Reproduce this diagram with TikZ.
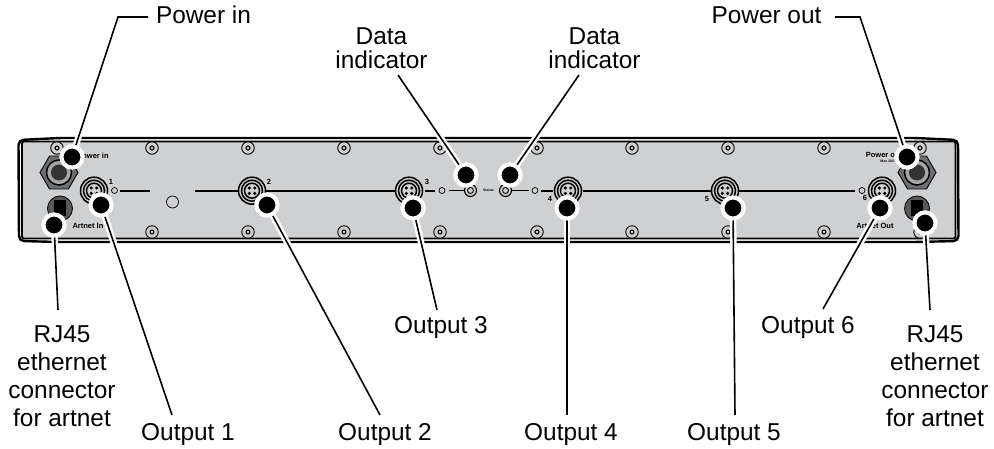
\documentclass[tikz,border=0pt]{standalone}
\usepackage{fontspec}
\setmainfont{Liberation Sans}
\usetikzlibrary{shapes.geometric}
\definecolor{panelgrey}{HTML}{CFD0D2}
\definecolor{nutgrey}{HTML}{6D6E71}
\begin{document}
\begin{tikzpicture}
    [
        x=1pt, y=-1pt,
        label/.style = {align=center, inner sep=0pt, font=\fontsize{24.4}{28}\selectfont},
        small/.style = {inner sep=0pt, font=\fontsize{7.5}{7.5}\selectfont\bfseries},
        tiny/.style = {inner sep=0pt, font=\fontsize{3.5}{4}\selectfont\bfseries},
        ring/.style = {draw, shape=circle, inner sep=0pt, line width=1.5pt},
        led/.style = {draw, shape=circle, inner sep=0pt, minimum size=6pt, line width=0.7pt},
        pin/.style = {fill, shape=circle, inner sep=0pt, minimum size=3.4pt},
        screw/.style = {draw, fill=panelgrey, shape=circle, inner sep=0pt, minimum size=12.5pt, line width=0.9pt},
        screwhole/.style = {draw, shape=circle, inner sep=0pt, minimum size=4pt, line width=1.1pt},
        nut/.style = {draw, fill=nutgrey, shape=regular polygon, regular polygon sides=6, inner sep=0pt, minimum size=38pt, line width=0.9pt},
        dot/.style = {fill=black, draw=white, shape=circle, inner sep=0pt, minimum size=21pt, line width=4pt},
        halo/.style = {white, line width=6.5pt},
        lead/.style = {black, line width=1.6pt},
        wire/.style = {black, line width=2.2pt},
        thinwire/.style = {black, line width=1.1pt},
    ]

    \useasboundingbox (0,0) rectangle (994,449);

    % panel
    \draw[line width=2.4pt, fill=white, rounded corners=5pt] (18.5,140) -- (60,138) -- (915,138) -- (958,140) -- (958.5,241) -- (915,242) -- (60,242) -- (19,241) -- cycle;
    \draw[line width=1.8pt, fill=panelgrey, rounded corners=2pt] (22,141.5) -- (955.5,141.5) -- (955.5,238.5) -- (22,238.5) -- cycle;

    % screws
    \foreach \x in {57,152,248,344,440,537,632,728,824,920} {
        \node[screw] (t\x) at (\x,148) {};
        \node[screwhole] (th\x) at (\x,148) {};
    }
    \foreach \x in {152,248,344,440,537,632,728,824,920} {
        \node[screw] (b\x) at (\x,232) {};
        \node[screwhole] (bh\x) at (\x,232) {};
    }

    % internal wiring
    \foreach \a/\b in {120/150,195/395,425/435,541/553,583/855} {
        \coordinate (wa\a) at (\a,190.7);
        \coordinate (wb\a) at (\b,190.7);
        \draw[wire] (wa\a) -- (wb\a);
    }
    \foreach \a/\b in {449/466,510/529} {
        \coordinate (wa\a) at (\a,190.7);
        \coordinate (wb\a) at (\b,190.7);
        \draw[thinwire] (wa\a) -- (wb\a);
    }

    % output sockets
    \foreach \name/\x in {1/94,2/252,3/409,4/568,5/725,6/882} {
        \node[ring, fill=panelgrey, minimum size=27pt] (o\name) at (\x,190.7) {};
        \node[ring, minimum size=21pt] (o\name m) at (\x,190.7) {};
        \node[ring, minimum size=15pt] (o\name i) at (\x,190.7) {};
        \node[pin] (o\name p) at (\x-2.7,188) {};
        \node[pin] (o\name q) at (\x+2.7,188) {};
        \node[pin] (o\name r) at (\x-2.7,193.4) {};
        \node[pin] (o\name s) at (\x+2.7,193.4) {};
    }

    % leds
    \node[led] (led1) at (114.5,190.5) {};
    \node[led] (led3) at (442,190.5) {};
    \node[led] (led4) at (535,190.5) {};
    \node[led] (led6) at (862,190.5) {};
    \node[draw, shape=circle, inner sep=0pt, minimum size=12pt, line width=0.7pt] (hole) at (172.5,202) {};
    \node[ring, fill=panelgrey, minimum size=12pt, line width=1.1pt] (statA) at (470.5,190.5) {};
    \node[led, line width=0.9pt] (statAi) at (470.5,190.5) {};
    \node[ring, fill=panelgrey, minimum size=12pt, line width=1.1pt] (statB) at (505.5,190.5) {};
    \node[led, line width=0.9pt] (statBi) at (505.5,190.5) {};

    % power and data jacks
    \node[nut] (nutL) at (59,172.5) {};
    \node[draw, fill=black!35, shape=circle, inner sep=0pt, minimum size=25pt, line width=1.5pt] (nutLa) at (59,172.5) {};
    \node[fill=black!80, shape=circle, inner sep=0pt, minimum size=16pt] (nutLb) at (59,172.5) {};
    \node[nut] (nutR) at (917,172.5) {};
    \node[draw, fill=black!35, shape=circle, inner sep=0pt, minimum size=25pt, line width=1.5pt] (nutRa) at (917,172.5) {};
    \node[fill=black!80, shape=circle, inner sep=0pt, minimum size=16pt] (nutRb) at (917,172.5) {};

    \node[draw, fill=black!65, shape=circle, inner sep=0pt, minimum size=25pt, line width=0.8pt] (rjL) at (60,208.5) {};
    \node[fill=black, inner sep=0pt, minimum width=12pt, minimum height=16pt] (rjLa) at (60,208.5) {};
    \node[draw, fill=black!65, shape=circle, inner sep=0pt, minimum size=25pt, line width=0.8pt] (rjR) at (917,208.5) {};
    \node[fill=black, inner sep=0pt, minimum width=12pt, minimum height=16pt] (rjRa) at (917,208.5) {};

    % panel print
    \node[small] (tPowerIn) at (93,155.5) {Power in};
    \node[small] (tArtIn) at (88,226) {Artnet In};
    \node[small] (tPowerOut) at (884,155) {Power out};
    \node[tiny] (tMax) at (887.5,161) {Max 16A};
    \node[small] (tArtOut) at (875,226) {Artnet Out};
    \node[tiny] (tStatus) at (488.5,190.5) {Status};
    \node[small] (n1) at (111,182) {1};
    \node[small] (n2) at (269,182) {2};
    \node[small] (n3) at (427,182) {3};
    \node[small] (n4) at (550,199) {4};
    \node[small] (n5) at (707,199) {5};
    \node[small] (n6) at (865,198) {6};

    % labels
    \node[label] (lPowerIn) at (203.5,15) {Power in};
    \node[label] (lPowerOut) at (766.5,15) {Power out};
    \node[label, font=\fontsize{24.4}{24}\selectfont] (lDataA) at (381.5,48) {Data\\indicator};
    \node[label, font=\fontsize{24.4}{24}\selectfont] (lDataB) at (594.5,48) {Data\\indicator};
    \node[label] (lRjL) at (62,376) {RJ45\\ethernet\\connector\\for artnet};
    \node[label] (lRjR) at (935,376) {RJ45\\ethernet\\connector\\for artnet};
    \node[label] (lOut1) at (188,435) {Output 1};
    \node[label] (lOut2) at (385,435) {Output 2};
    \node[label] (lOut3) at (441,328) {Output 3};
    \node[label] (lOut4) at (571,435) {Output 4};
    \node[label] (lOut5) at (734,435) {Output 5};
    \node[label] (lOut6) at (808,328) {Output 6};

    % callouts
    \coordinate (cPowerIn) at (148,17);
    \coordinate (bPowerIn) at (118,17);
    \coordinate (cPowerOut) at (835,17);
    \coordinate (bPowerOut) at (860,17);
    \coordinate (cDataA) at (398,75);
    \coordinate (cDataB) at (579,75);
    \coordinate (cRjL) at (58,310);
    \coordinate (cRjR) at (930,310);
    \coordinate (cOut1) at (172,415);
    \coordinate (cOut2) at (380,415);
    \coordinate (cOut3) at (437,310);
    \coordinate (cOut4) at (567,415);
    \coordinate (cOut5) at (735,415);
    \coordinate (cOut6) at (823,309);

    \node[dot] (dPowerIn) at (72,157) {};
    \node[dot] (dPowerOut) at (907,157) {};
    \node[dot] (dDataA) at (466,175) {};
    \node[dot] (dDataB) at (510,175) {};
    \node[dot] (dRjL) at (54,225) {};
    \node[dot] (dRjR) at (925,223) {};
    \node[dot] (dOut1) at (101,205) {};
    \node[dot] (dOut2) at (267,205) {};
    \node[dot] (dOut3) at (413,208) {};
    \node[dot] (dOut4) at (567,208) {};
    \node[dot] (dOut5) at (733,208) {};
    \node[dot] (dOut6) at (880,208) {};

    \foreach \st in {halo,lead} {
        \draw[\st] (dPowerIn.center) -- (bPowerIn) -- (cPowerIn);
        \draw[\st] (dPowerOut.center) -- (bPowerOut) -- (cPowerOut);
        \draw[\st] (dDataA.center) -- (cDataA);
        \draw[\st] (dDataB.center) -- (cDataB);
        \draw[\st] (dRjL.center) -- (cRjL);
        \draw[\st] (dRjR.center) -- (cRjR);
        \draw[\st] (dOut1.center) -- (cOut1);
        \draw[\st] (dOut2.center) -- (cOut2);
        \draw[\st] (dOut3.center) -- (cOut3);
        \draw[\st] (dOut4.center) -- (cOut4);
        \draw[\st] (dOut5.center) -- (cOut5);
        \draw[\st] (dOut6.center) -- (cOut6);
    }
    % dots again, over the halos
    \foreach \d in {dPowerIn,dPowerOut,dDataA,dDataB,dRjL,dRjR,dOut1,dOut2,dOut3,dOut4,dOut5,dOut6} {
        \node[dot] (\d x) at (\d.center) {};
    }

\end{tikzpicture}
\end{document}
